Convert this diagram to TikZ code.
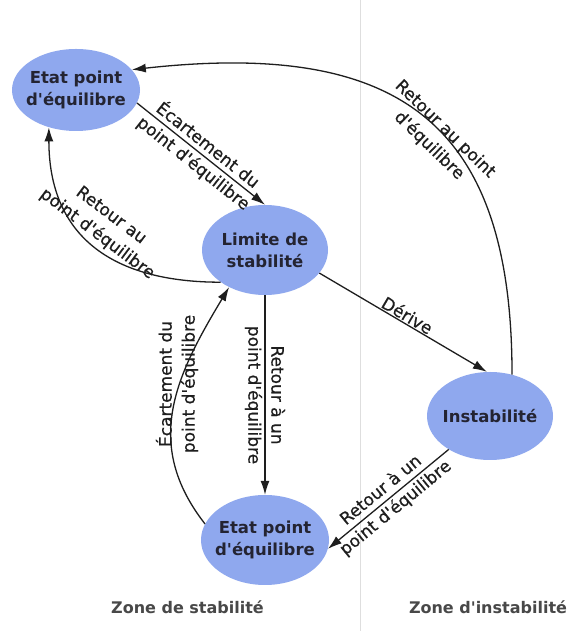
\documentclass[tikz,border=0pt]{standalone}
\usepackage{fontspec}
\setmainfont{DejaVu Sans}
\newfontfamily\lblfont{DejaVu Sans}[FakeBold=0.6]
\usetikzlibrary{shapes.geometric,arrows.meta}
\definecolor{nodefill}{RGB}{143,168,238}
\definecolor{edgecol}{RGB}{30,30,30}
\definecolor{txtcol}{RGB}{36,36,50}
\definecolor{zonecol}{RGB}{72,72,72}
\definecolor{divcol}{RGB}{222,222,222}
\begin{document}
\begin{tikzpicture}[x=1pt,y=1pt,
  state/.style={ellipse, fill=nodefill, inner xsep=-10pt, inner ysep=-6pt, align=center,
    font=\bfseries\fontsize{16.5}{22}\selectfont, text=txtcol},
  conn/.style={draw=edgecol, line width=1.3pt, -{Latex[length=14pt,width=9pt]}},
  lbl/.style={font=\lblfont\fontsize{17}{23}\selectfont, align=center, text=edgecol, inner sep=1pt},
  zone/.style={font=\bfseries\fontsize{16}{19}\selectfont, text=zonecol}]
\useasboundingbox (0,0) rectangle (573,631);
\fill[white] (0,0) rectangle (573,631);
\draw[divcol, line width=0.8pt] (360,0) -- (360,631);

\node[state, minimum width=128pt, minimum height=82pt] (E1) at (76,541) {Etat point\\d\textquotesingle équilibre};
\node[state, minimum width=126pt, minimum height=90pt] (L) at (265,381) {Limite de\\stabilité};
\node[state, minimum width=126pt, minimum height=88pt] (In) at (490,215) {Instabilité};
\node[state, minimum width=128pt, minimum height=90pt] (E2) at (265,91) {Etat point\\d\textquotesingle équilibre};

\draw[conn] (E1.-12) -- node[lbl, sloped] (lA) {Écartement du\\point d\textquotesingle équilibre} (L.north);

\draw[conn] (L.216) to[out=180, in=-90, looseness=1.2] (E1.234);
\node[lbl, rotate=-37] (lB) at (104,406) {Retour au\\point d\textquotesingle équilibre};

\draw[conn] (In.62) .. controls (512,508) and (400,591) .. (E1.20);
\node[lbl, rotate=-44] (lC) at (437,493.5) {Retour au point\\d\textquotesingle équilibre};

\draw[conn] (L.-23) -- node[lbl, sloped, above] (lD) {Dérive} (In.94);

\draw[conn] (L.south) -- node[lbl, sloped] (lE) {Retour à un\\point d\textquotesingle équilibre} (E2.north);

\draw[conn] (E2.165) to[out=128, in=-121, looseness=1.1] (L.226);
\node[lbl, rotate=90] (lF) at (177,247) {Écartement du\\point d\textquotesingle équilibre};

\draw[conn] (In.219) -- node[lbl, sloped] (lG) {Retour à un\\point d\textquotesingle équilibre} (E2.-8);

\node[zone] (z1) at (187.5,24) {Zone de stabilité};
\node[zone] (z2) at (488,24) {Zone d\textquotesingle instabilité};
\end{tikzpicture}
\end{document}
